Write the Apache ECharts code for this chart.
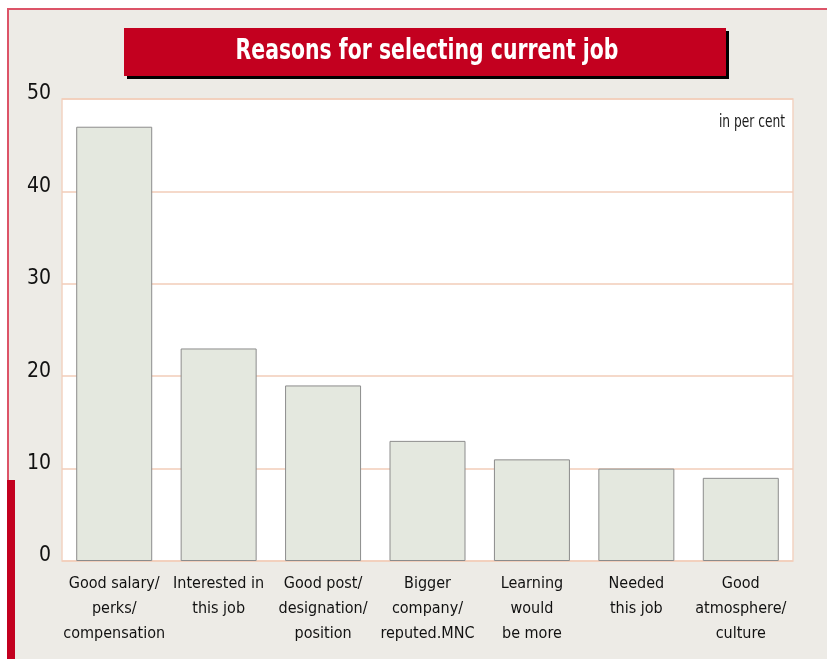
<!DOCTYPE html>
<html>
<head>
<meta charset="utf-8">
<script src="https://cdn.jsdelivr.net/npm/echarts@6/dist/echarts.min.js"></script>
<style>
  html, body { margin: 0; padding: 0; background: #fff; }
  #chart { width: 827px; height: 659px; }
</style>
</head>
<body>
<div id="chart"></div>
<script>
const categories = [
  'Good salary/\nperks/\ncompensation',
  'Interested in\nthis job',
  'Good post/\ndesignation/\nposition',
  'Bigger\ncompany/\nreputed.MNC',
  'Learning\nwould\nbe more',
  'Needed\nthis job',
  'Good\natmosphere/\nculture'
];
const values = [47, 23, 19, 13, 11, 10, 9];
const yTicks = [0, 10, 20, 30, 40, 50];

const FONT = '"DejaVu Sans Condensed", "Liberation Sans Narrow", sans-serif';

const chart = echarts.init(document.getElementById('chart'), null, { width: 827, height: 659 });

chart.setOption({
  animation: false,
  backgroundColor: '#ffffff',
  textStyle: { fontFamily: FONT },
  graphic: [
    // outer panel
    { type: 'rect', z: -10, shape: { x: 8, y: 9, width: 840, height: 670 },
      style: { fill: '#edebe6', stroke: '#dc5468', lineWidth: 2 } },
    // red accent on left edge
    { type: 'rect', z: -9, shape: { x: 7, y: 480, width: 8, height: 179 },
      style: { fill: '#c3001f' } },
    // title box shadow + box
    { type: 'rect', z: -8, shape: { x: 127, y: 31, width: 602, height: 48 },
      style: { fill: '#000000' } },
    { type: 'rect', z: -7, shape: { x: 124, y: 28, width: 602, height: 48 },
      style: { fill: '#c3001f' } },
    // narrow the text horizontally, the original uses a condensed face
    { type: 'text', z: 10, x: 427, y: 52, scaleX: 0.81,
      style: { text: 'Reasons for selecting current job', fill: '#ffffff',
               font: 'bold 28px ' + FONT, align: 'center', verticalAlign: 'middle' } },
    { type: 'text', z: 10, x: 785, y: 123, scaleX: 0.8,
      style: { text: 'in per cent', fill: '#1a1a1a',
               font: '17px ' + FONT, align: 'right', verticalAlign: 'middle' } }
  ],
  grid: {
    left: 62, right: 34, top: 99, bottom: 98,
    show: true, backgroundColor: '#ffffff', borderColor: '#f2d3c2', borderWidth: 1.5
  },
  xAxis: {
    type: 'category',
    data: categories,
    axisLine: { show: false },
    axisTick: { show: false },
    axisLabel: {
      interval: 0, margin: 10, color: '#111111', fontSize: 16, lineHeight: 25, fontFamily: FONT
    }
  },
  yAxis: {
    type: 'value',
    min: yTicks[0], max: yTicks[yTicks.length - 1], interval: 10,
    axisLine: { show: false },
    axisTick: { show: false },
    axisLabel: {
      margin: 11, color: '#111111', fontSize: 21, fontFamily: FONT,
      verticalAlign: 'bottom', lineHeight: 10
    },
    splitLine: { lineStyle: { color: '#f2cdb8', width: 1.5 } }
  },
  series: [{
    type: 'bar',
    data: values,
    barWidth: 76,
    itemStyle: { color: '#e4e8df', borderColor: '#8c8c8c', borderWidth: 1 }
  }]
});
</script>
</body>
</html>
